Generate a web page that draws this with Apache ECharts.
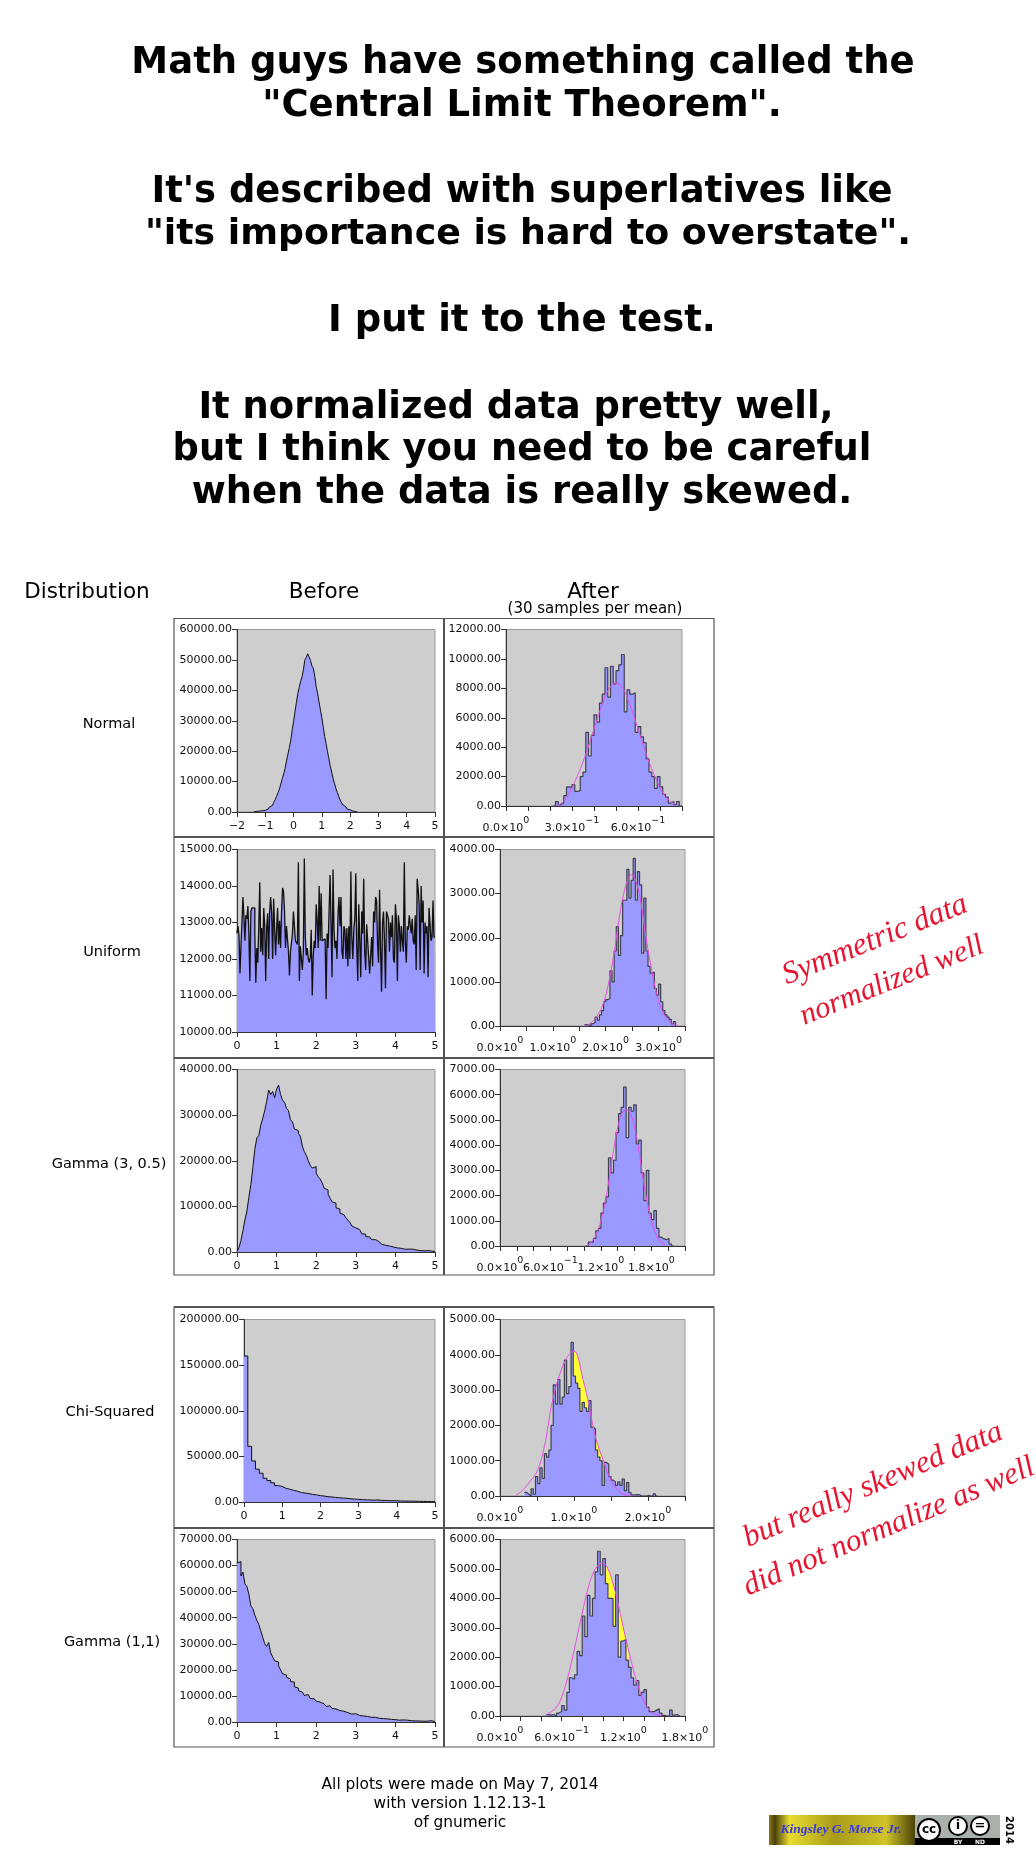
<!DOCTYPE html>
<html><head><meta charset="utf-8">
<style>html,body{margin:0;padding:0;background:#fff}#c{width:1036px;height:1856px}</style>
<script src="https://cdn.jsdelivr.net/npm/echarts@6/dist/echarts.min.js"></script>
</head><body><div id="c"></div>
<script>
// ---------- histogram bins (start, bin width, counts) and fitted curves ----------
const normalBeforeBin=[-1.4,0.05];
const normalBefore=[100,200,150,300,350,400,600,550,800,1000,1300,1700,2100,2500,3200,4000,5200,6300,7600,9200,11000,12500,14300,16800,19000,21200,23400,27000,29800,33000,36000,38900,41000,43000,44500,46900,50000,50800,52000,51000,49800,48000,47300,44600,41300,39000,36200,33500,31000,27900,24800,22500,19800,17500,15000,13000,10900,9300,7600,6400,5000,3900,3000,2300,1700,1300,900,700,500,300,200,150,50];
const normalAfterBin=[0.2125,0.0125];
const normalAfter=[0,300,100,200,700,1300,1250,1450,1000,1050,2000,2300,5000,3400,4800,6200,5700,7000,7600,9400,7400,9500,8300,9200,9600,10300,6400,7900,7600,7700,5000,5400,4700,4300,3200,2300,2000,1200,2000,1300,800,600,200,300,100,300,0];
const normalCurve=[[.23,0],[.26,300],[.29,950],[.32,1900],[.35,3000],[.38,4300],[.41,5700],[.44,7000],[.47,8000],[.5,8350],[.53,8000],[.56,7000],[.59,5700],[.62,4300],[.65,3000],[.68,1900],[.71,950],[.74,400],[.77,100]];

const uniformBeforeBin=[0,0.025];
const uniformBefore=[12700,12900,12650,11600,12350,13000,13700,13150,12500,13200,
13100,13450,12700,11400,13300,13400,13450,13400,12700,11350,
12300,11900,12900,14100,12200,12850,12100,13400,12900,11400,
12850,13250,12000,13300,13700,13250,12000,13650,12850,12100,
12800,13400,12400,13050,12300,13300,13950,13850,13300,12300,
12900,12950,12200,11550,12200,12200,12700,13300,13250,12500,
12450,12400,14650,11400,12350,12300,11700,12200,14750,12600,
12100,12300,12000,11900,12050,12800,11000,12050,12500,12300,
13500,13050,12300,14000,12500,13800,12500,12550,12550,12500,
10900,12700,12300,13300,14300,13000,11500,14450,12800,12300,
12500,12000,13200,13700,12900,13700,12200,12000,12900,12800,
12000,12850,11800,12900,12000,14400,12600,12000,12800,13100,
14350,12300,11400,13500,12500,11500,13300,12700,14200,12200,
11700,12950,13000,12050,11600,12100,12600,11800,13300,13000,
13700,13600,12400,11900,13900,12300,11100,13000,13300,12500,
11200,13300,13200,13100,12200,13000,12600,13200,12000,11900,
13500,13100,11400,13200,12900,12200,12900,12500,12200,14650,
12500,11900,12900,12800,13200,13150,12700,13100,12500,12400,
13200,11700,14200,13900,13500,11700,14000,13000,13600,11600,
13000,12700,12900,11500,13400,13400,12500,12600,13600,12600];
const uniformAfterBin=[1.6,0.04];
const uniformAfter=[30,30,0,50,80,200,130,250,350,550,600,620,1250,1000,1700,2250,1600,2050,2850,2850,3550,2900,3300,3800,2850,3500,3200,1650,2900,1700,1350,1200,1220,850,700,950,550,350,250,200,150,50,100,0];
const uniformCurve=[[1.62,0],[1.75,100],[1.85,250],[1.95,500],[2.05,950],[2.15,1600],[2.25,2400],[2.35,3050],[2.45,3400],[2.5,3430],[2.55,3350],[2.65,2900],[2.75,2100],[2.85,1400],[2.95,800],[3.05,400],[3.15,180],[3.25,60],[3.35,0]];

const gamma305BeforeBin=[0,0.05];
const gamma305Before=[100,1000,2500,4700,7000,9000,12000,14800,18500,22500,25000,25500,27800,29300,31000,33000,35500,34500,35200,33800,35700,36600,34500,33300,32800,31500,31000,29000,28500,27000,26600,26000,25400,23200,22000,21200,20000,19000,18400,18700,17300,16500,16000,15200,14000,13600,12700,11800,11000,10700,9700,9400,8500,8200,8300,7500,7000,6500,5700,5300,5200,4900,4500,4000,3900,3400,3300,2900,2700,2700,2300,2200,1900,1700,1500,1600,1300,1200,1100,1000,900,1050,800,700,600,550,650,700,600,500,400,350,300,350,250,200,300,200,150,100];
const gamma305AfterBin=[1.02,0.03];
const gamma305After=[0,150,150,300,600,700,1300,1700,1950,3500,2900,3400,4500,5250,5500,6300,4300,5500,5350,5600,4050,4200,2900,1800,3000,1300,1050,1400,700,350,280,250,300,80,0];
const gamma305Curve=[[1.03,0],[1.1,200],[1.15,500],[1.2,1000],[1.25,1750],[1.3,2700],[1.35,3800],[1.4,4700],[1.45,5250],[1.5,5400],[1.55,5250],[1.6,4700],[1.65,3800],[1.7,2700],[1.75,1750],[1.8,1000],[1.85,500],[1.9,200],[1.97,30]];

const chiBeforeBin=[0,0.1];
const chiBefore=[160000,61000,45000,36000,31500,26000,23500,21000,18000,17000,15000,14000,12800,11800,10500,9800,9200,8300,7800,7000,6500,5800,5500,5000,4600,4300,4000,3500,3200,2900,2500,2400,2200,2000,2300,1800,1700,1500,1400,1300,1100,1000,1000,900,800,700,600,500,500,400];
const chiAfterBin=[0.33,0.03];
const chiAfter=[100,50,0,200,50,550,350,800,500,1200,1100,1300,2000,3150,2600,3300,2600,2800,3850,2900,3100,4350,3400,3200,3050,2400,2650,2500,2400,2700,1950,1900,1300,1100,1000,300,950,900,550,450,400,300,400,300,480,150,380,100,30,30,40,30,0,0,0,20,0,0,60,0];
const chiCurve=[[.22,30],[.3,150],[.4,400],[.5,700],[.6,1400],[.65,2000],[.7,2600],[.8,3400],[.9,3900],[.97,4080],[1.0,4100],[1.05,3950],[1.11,3400],[1.18,2800],[1.25,2050],[1.3,1600],[1.38,1100],[1.5,450],[1.6,150],[1.7,30],[1.78,0]];
const chiGap=[.97,1.42];

const gamma11BeforeBin=[0,0.05];
const gamma11Before=[61000,61500,56000,57500,53000,52000,49000,44500,43500,41000,39000,37500,35000,32500,30000,29000,30500,26500,25000,23500,23000,21500,20000,18500,18000,17200,16500,15500,15300,13500,13000,12000,11500,11000,10200,10500,10000,9000,8900,8300,8000,7600,7500,7000,6600,6000,6200,5500,5200,5000,4800,4400,4600,4100,3800,3600,3300,3000,2900,3200,2700,2500,2700,2300,2400,2100,2000,1800,1500,1800,1500,1400,1500,1300,1200,1200,1100,1000,1300,900,800,700,700,800,600,700,600,500,500,400,600,400,450,300,350,300,250,500,300,200];
const gamma11AfterBin=[0.45,0.025];
const gamma11After=[50,30,50,0,100,150,350,200,800,1300,1250,1400,2200,2050,3400,2700,4100,3400,4000,4900,5600,4800,5350,4500,4000,4000,3050,4800,2000,2550,2600,1900,1650,1300,1050,1200,700,800,900,300,150,150,200,250,100,20,0,0,200,30,50,0];
const gamma11Curve=[[.44,20],[.5,150],[.55,300],[.6,650],[.65,1200],[.7,1900],[.75,2700],[.8,3500],[.85,4250],[.9,4800],[.95,5100],[1.0,5200],[1.05,5000],[1.1,4500],[1.15,3800],[1.2,3000],[1.25,2250],[1.3,1550],[1.35,950],[1.4,500],[1.45,220],[1.5,80],[1.58,0]];
const gamma11Gap=[.99,1.28];

// ---------- tick labels of the "After" axes: [value, mantissa, exponent] ----------
const normalTicks=[[0,'0.0','0'],[0.3,'3.0','-1'],[0.6,'6.0','-1']];
const uniformTicks=[[0,'0.0','0'],[1,'1.0','0'],[2,'2.0','0'],[3,'3.0','0']];
const gamma305Ticks=[[0,'0.0','0'],[0.6,'6.0','-1'],[1.2,'1.2','0'],[1.8,'1.8','0']];
const chiTicks=[[0,'0.0','0'],[1,'1.0','0'],[2,'2.0','0']];
const gamma11Ticks=[[0,'0.0','0'],[0.6,'6.0','-1'],[1.2,'1.2','0'],[1.8,'1.8','0']];

// ---------- text ----------
const titleLines=['Math guys have something called the','"Central Limit Theorem".','It\'s described with superlatives like','"its importance is hard to overstate".','I put it to the test.','It normalized data pretty well,','but I think you need to be careful','when the data is really skewed.'];
const rowNames=['Normal','Uniform','Gamma (3, 0.5)','Chi-Squared','Gamma (1,1)'];
const footerLines=['All plots were made on May 7, 2014','with version 1.12.13-1','of gnumeric'];
const noteLines=['Symmetric data','normalized well','but really skewed data','did not normalize as well'];

// ---------- layout ----------
const FONT='"DejaVu Sans"';
const titlePos=[[523,63,37],[522,106,37],[522,192,36.9],[528,235,36.3],[522,321,37],[516,408,36.9],[522,450,36.9],[522,493,36.9]];
const rowPos=[[109,724],[112,952],[109,1164],[110,1412],[112,1642]];
const footerPos=[[460,1784.5],[460,1803.5],[460,1822.5]];
const notePos=[[875,940,31.5,22],[892,981,30.5,22],[873,1485,31,23],[889,1527,31,23]];
const panels=[
 {l:237,r:435,t:629.5,b:812,ymax:60000,yint:10000,xmin:-2,xmax:5,xint:1,bin:normalBeforeBin,h:normalBefore},
 {l:506,r:682,t:629.5,b:806,ymax:12000,yint:2000,xmin:0,xmax:0.8,xint:0.1,bin:normalAfterBin,h:normalAfter,curve:normalCurve,ticks:normalTicks},
 {l:237,r:435,t:849.5,b:1032,ymin:10000,ymax:15000,yint:1000,xmin:0,xmax:5,xint:1,bin:uniformBeforeBin,h:uniformBefore,lw:1.3},
 {l:500,r:685,t:849.5,b:1026,ymax:4000,yint:1000,xmin:0,xmax:3.5,xint:0.5,bin:uniformAfterBin,h:uniformAfter,curve:uniformCurve,ticks:uniformTicks},
 {l:237,r:435,t:1069.5,b:1252,ymax:40000,yint:10000,xmin:0,xmax:5,xint:1,bin:gamma305BeforeBin,h:gamma305Before},
 {l:500,r:685,t:1069.5,b:1246,ymax:7000,yint:1000,xmin:0,xmax:2.2,xint:0.2,bin:gamma305AfterBin,h:gamma305After,curve:gamma305Curve,ticks:gamma305Ticks},
 {l:244,r:435,t:1319.5,b:1502,ymax:200000,yint:50000,xmin:0,xmax:5,xint:1,bin:chiBeforeBin,h:chiBefore},
 {l:500,r:685,t:1319.5,b:1496,ymax:5000,yint:1000,xmin:0,xmax:2.5,xint:0.5,bin:chiAfterBin,h:chiAfter,curve:chiCurve,ticks:chiTicks,gap:chiGap},
 {l:237,r:435,t:1539.5,b:1722,ymax:70000,yint:10000,xmin:0,xmax:5,xint:1,bin:gamma11BeforeBin,h:gamma11Before},
 {l:500,r:685,t:1539.5,b:1716,ymax:6000,yint:1000,xmin:0,xmax:1.8,xint:0.2,bin:gamma11AfterBin,h:gamma11After,curve:gamma11Curve,ticks:gamma11Ticks,gap:gamma11Gap}
];
const grids=[],xAxes=[],yAxes=[],series=[];
panels.forEach((p,i)=>{
  grids.push({left:p.l,top:p.t,width:p.r-p.l,height:p.b-p.t,containLabel:false,show:true,backgroundColor:'#cecece',borderColor:'#9a9a9a',borderWidth:1});
  const after=!!p.ticks;
  xAxes.push({gridIndex:i,type:'value',min:p.xmin,max:p.xmax,interval:p.xint,splitLine:{show:false},
    axisLine:{onZero:false,lineStyle:{color:'#333',width:1}},axisTick:{length:5,lineStyle:{color:'#333'}},
    axisLabel:{color:'#111',fontFamily:FONT,fontSize:11,margin:after?10:9,showMinLabel:true,showMaxLabel:true,hideOverlap:false,
      formatter:after?(v=>{const t=p.ticks.find(k=>Math.abs(k[0]-v)<1e-6);return t?`{m|${t[1]}×10}{e|${t[2].replace('-','−')}}`:'';}):(v=>String(v).replace('-','−')),
      rich:{m:{fontFamily:FONT,fontSize:11,color:'#111',lineHeight:18,verticalAlign:'bottom'},e:{fontFamily:FONT,fontSize:9.5,color:'#111',lineHeight:18,verticalAlign:'top'}}}});
  yAxes.push({gridIndex:i,type:'value',min:p.ymin||0,max:p.ymax,interval:p.yint,splitLine:{show:false},
    axisLine:{show:true,onZero:false,lineStyle:{color:'#333',width:1}},axisTick:{show:true,length:5,lineStyle:{color:'#333'}},
    axisLabel:{color:'#111',fontFamily:FONT,fontSize:11,margin:5,showMinLabel:true,showMaxLabel:true,formatter:v=>v.toFixed(2)}});
  const pts=p.h.map((v,k)=>[p.bin[0]+k*p.bin[1],v]);
  pts.push([p.bin[0]+p.h.length*p.bin[1],p.h[p.h.length-1]]);
  if(p.gap){
    series.push({type:'line',xAxisIndex:i,yAxisIndex:i,z:2,smooth:true,showSymbol:false,silent:true,lineStyle:{width:0},
      areaStyle:{color:'#ffff33',opacity:1},data:p.curve.filter(c=>c[0]>=p.gap[0]&&c[0]<=p.gap[1])});
  }
  series.push({type:'line',xAxisIndex:i,yAxisIndex:i,z:3,step:'end',showSymbol:false,silent:true,
    lineStyle:{color:after?'#40404f':'#111',width:p.lw||(after?1.2:1)},areaStyle:{color:'#9999ff',opacity:1},data:pts});
  if(p.curve){
    series.push({type:'line',xAxisIndex:i,yAxisIndex:i,z:4,smooth:true,showSymbol:false,silent:true,lineStyle:{color:'#e84ce8',width:1},data:p.curve});
  }
});

// ---------- decorations ----------
const g=[];
const txt=(t,x,y,size,o={})=>g.push({type:'text',x,y,rotation:(o.rot||0)*Math.PI/180,z:o.z||10,silent:true,
  style:{text:t,fontFamily:o.ff||FONT,fontSize:size,fontWeight:o.w||'normal',fontStyle:o.st||'normal',fill:o.c||'#000',align:o.a||'center',verticalAlign:'middle'}});
titleLines.forEach((l,i)=>txt(l,titlePos[i][0],titlePos[i][1],titlePos[i][2],{w:'bold'}));
txt('Distribution',87,592,21.5);txt('Before',324,592,21.5);txt('After',593,592,21.5);txt('(30 samples per mean)',595,609,15);
rowNames.forEach((r,i)=>txt(r,rowPos[i][0],rowPos[i][1],14.5));
footerLines.forEach((f,i)=>txt(f,footerPos[i][0],footerPos[i][1],15.4));
noteLines.forEach((n,i)=>txt(n,notePos[i][0],notePos[i][1],notePos[i][2],{ff:'"Liberation Serif"',st:'italic',c:'#e8142f',rot:notePos[i][3]}));
const box=(x1,y1,x2,y2)=>g.push({type:'rect',z:1,silent:true,shape:{x:x1,y:y1,width:x2-x1,height:y2-y1},style:{fill:'none',stroke:'#555',lineWidth:1.2}});
const line=(x1,y1,x2,y2,w)=>g.push({type:'line',z:1,silent:true,shape:{x1,y1,x2,y2},style:{stroke:'#555',lineWidth:w}});
box(174,618.5,714,1275);box(174,1307,714,1747);
line(174,837,714,837,2);line(174,1058,714,1058,2);line(174,1528,714,1528,2);line(174,1307,714,1307,2);
line(444,618.5,444,1275,2);line(444,1307,444,1747,2);
// badge
g.push({type:'rect',z:5,silent:true,shape:{x:769,y:1815,width:146,height:30},style:{fill:new echarts.graphic.LinearGradient(0,0,1,0,[{offset:0,color:'#8a7a18'},{offset:.04,color:'#4a4008'},{offset:.14,color:'#e8dc30'},{offset:.45,color:'#a89c18'},{offset:.8,color:'#d0c428'},{offset:1,color:'#4a4208'}])}});
txt('Kingsley G. Morse Jr.',841,1830,13.5,{ff:'"Liberation Serif"',st:'italic',w:'bold',c:'#3838e8'});
g.push({type:'rect',z:5,silent:true,shape:{x:915,y:1815,width:85,height:30},style:{fill:'#aab0aa'}});
g.push({type:'rect',z:6,silent:true,shape:{x:915,y:1838,width:85,height:7},style:{fill:'#000'}});
[[929,1830,11,'cc'],[958,1826,9,'i'],[980,1826,9,'=']].forEach(c=>{
  g.push({type:'circle',z:7,silent:true,shape:{cx:c[0],cy:c[1],r:c[2]},style:{fill:'#fff',stroke:'#000',lineWidth:2}});
  txt(c[3],c[0],c[1],c[3]==='cc'?12:13,{w:'bold',z:8});
});
txt('BY',958,1842,6,{c:'#fff',z:8,w:'bold'});txt('ND',980,1842,6,{c:'#fff',z:8,w:'bold'});
txt('2014',1009,1830,10,{w:'bold',rot:-90});

const chart=echarts.init(document.getElementById('c'),null,{renderer:'canvas',width:1036,height:1856});
chart.setOption({animation:false,backgroundColor:'#fff',tooltip:{show:false},grid:grids,xAxis:xAxes,yAxis:yAxes,series,graphic:{elements:g}});
</script></body></html>
